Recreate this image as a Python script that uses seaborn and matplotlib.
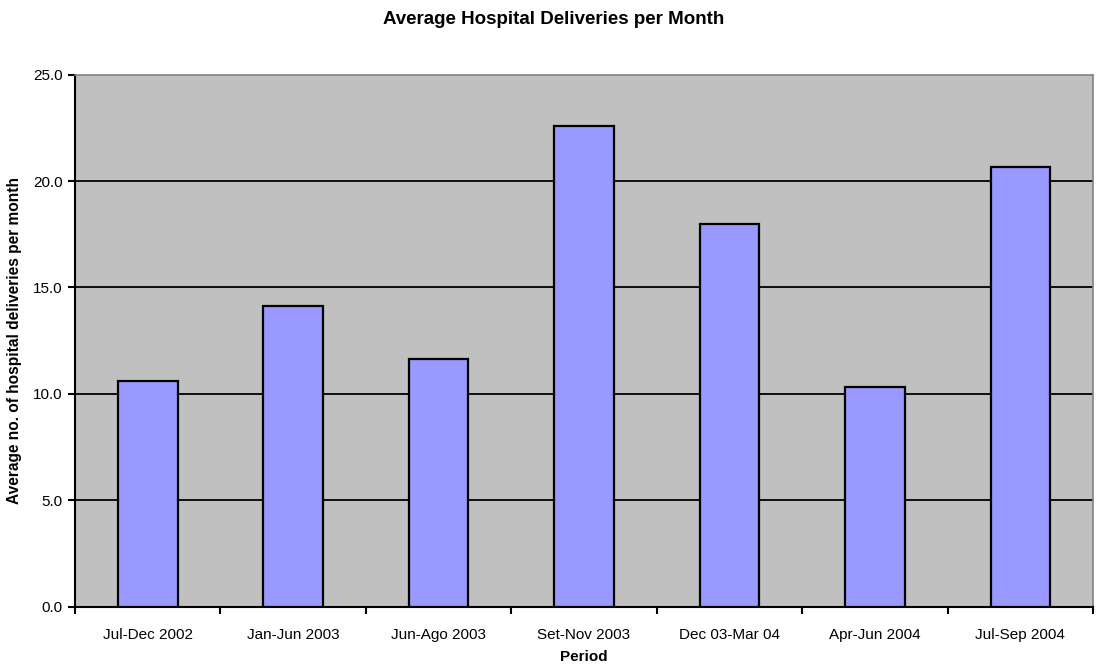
import matplotlib
matplotlib.use("Agg")
import matplotlib.pyplot as plt
import seaborn as sns
import pandas as pd
import numpy as np

periods = ["Jul-Dec 2002", "Jan-Jun 2003", "Jun-Ago 2003", "Set-Nov 2003",
           "Dec 03-Mar 04", "Apr-Jun 2004", "Jul-Sep 2004"]
deliveries = [10.6, 14.15, 11.65, 22.6, 18.0, 10.3, 20.65]
y_ticks = [0.0, 5.0, 10.0, 15.0, 20.0, 25.0]

sns.set_theme(style="white")
plt.rcParams["font.family"] = ["Liberation Sans", "DejaVu Sans"]
plt.rcParams["text.color"] = "black"
plt.rcParams["axes.labelcolor"] = "black"
plt.rcParams["xtick.color"] = "black"
plt.rcParams["ytick.color"] = "black"

df = pd.DataFrame({"Period": periods, "Deliveries": deliveries})

fig = plt.figure(figsize=(11.08, 6.66), dpi=100)
ax = fig.add_axes([0.0677, 0.089, 0.9188, 0.799])
ax.set_facecolor("#C0C0C0")

sns.barplot(data=df, x="Period", y="Deliveries", color="#9999FF",
            saturation=1, width=0.41, edgecolor="black", linewidth=1.6,
            ax=ax, zorder=3)

ax.set_ylim(0, 25)
ax.set_xlim(-0.5, len(periods) - 0.5)
ax.set_yticks(y_ticks)
ax.set_yticklabels([f"{v:.1f}" for v in y_ticks], fontsize=11)
for v in y_ticks[1:-1]:
    ax.axhline(v, color="black", linewidth=1.3, zorder=1)

# category labels centred, tick marks on category boundaries
ax.set_xticks(range(len(periods)))
ax.set_xticklabels(periods, fontsize=11)
ax.tick_params(axis="x", which="major", length=0, pad=15)
ax.set_xticks(np.arange(-0.5, len(periods) + 0.5, 1), minor=True)
ax.tick_params(axis="x", which="minor", length=5, width=1.5, color="black",
               direction="out", bottom=True)
ax.tick_params(axis="y", length=5, width=1.5, color="black",
               direction="out", left=True, pad=4)

for side in ["left", "bottom"]:
    ax.spines[side].set_color("black")
    ax.spines[side].set_linewidth(1.5)
for side in ["top", "right"]:
    ax.spines[side].set_color("#808080")
    ax.spines[side].set_linewidth(1.2)

ax.set_xlabel("Period", fontsize=11, fontweight="bold", labelpad=6)
ax.set_ylabel("Average no. of hospital deliveries per month", fontsize=11.2,
              fontweight="bold", labelpad=8)
fig.suptitle("Average Hospital Deliveries per Month", fontsize=13.5,
             fontweight="bold", y=0.983, va="top")

fig.savefig("out.png", dpi=100, facecolor="white")
